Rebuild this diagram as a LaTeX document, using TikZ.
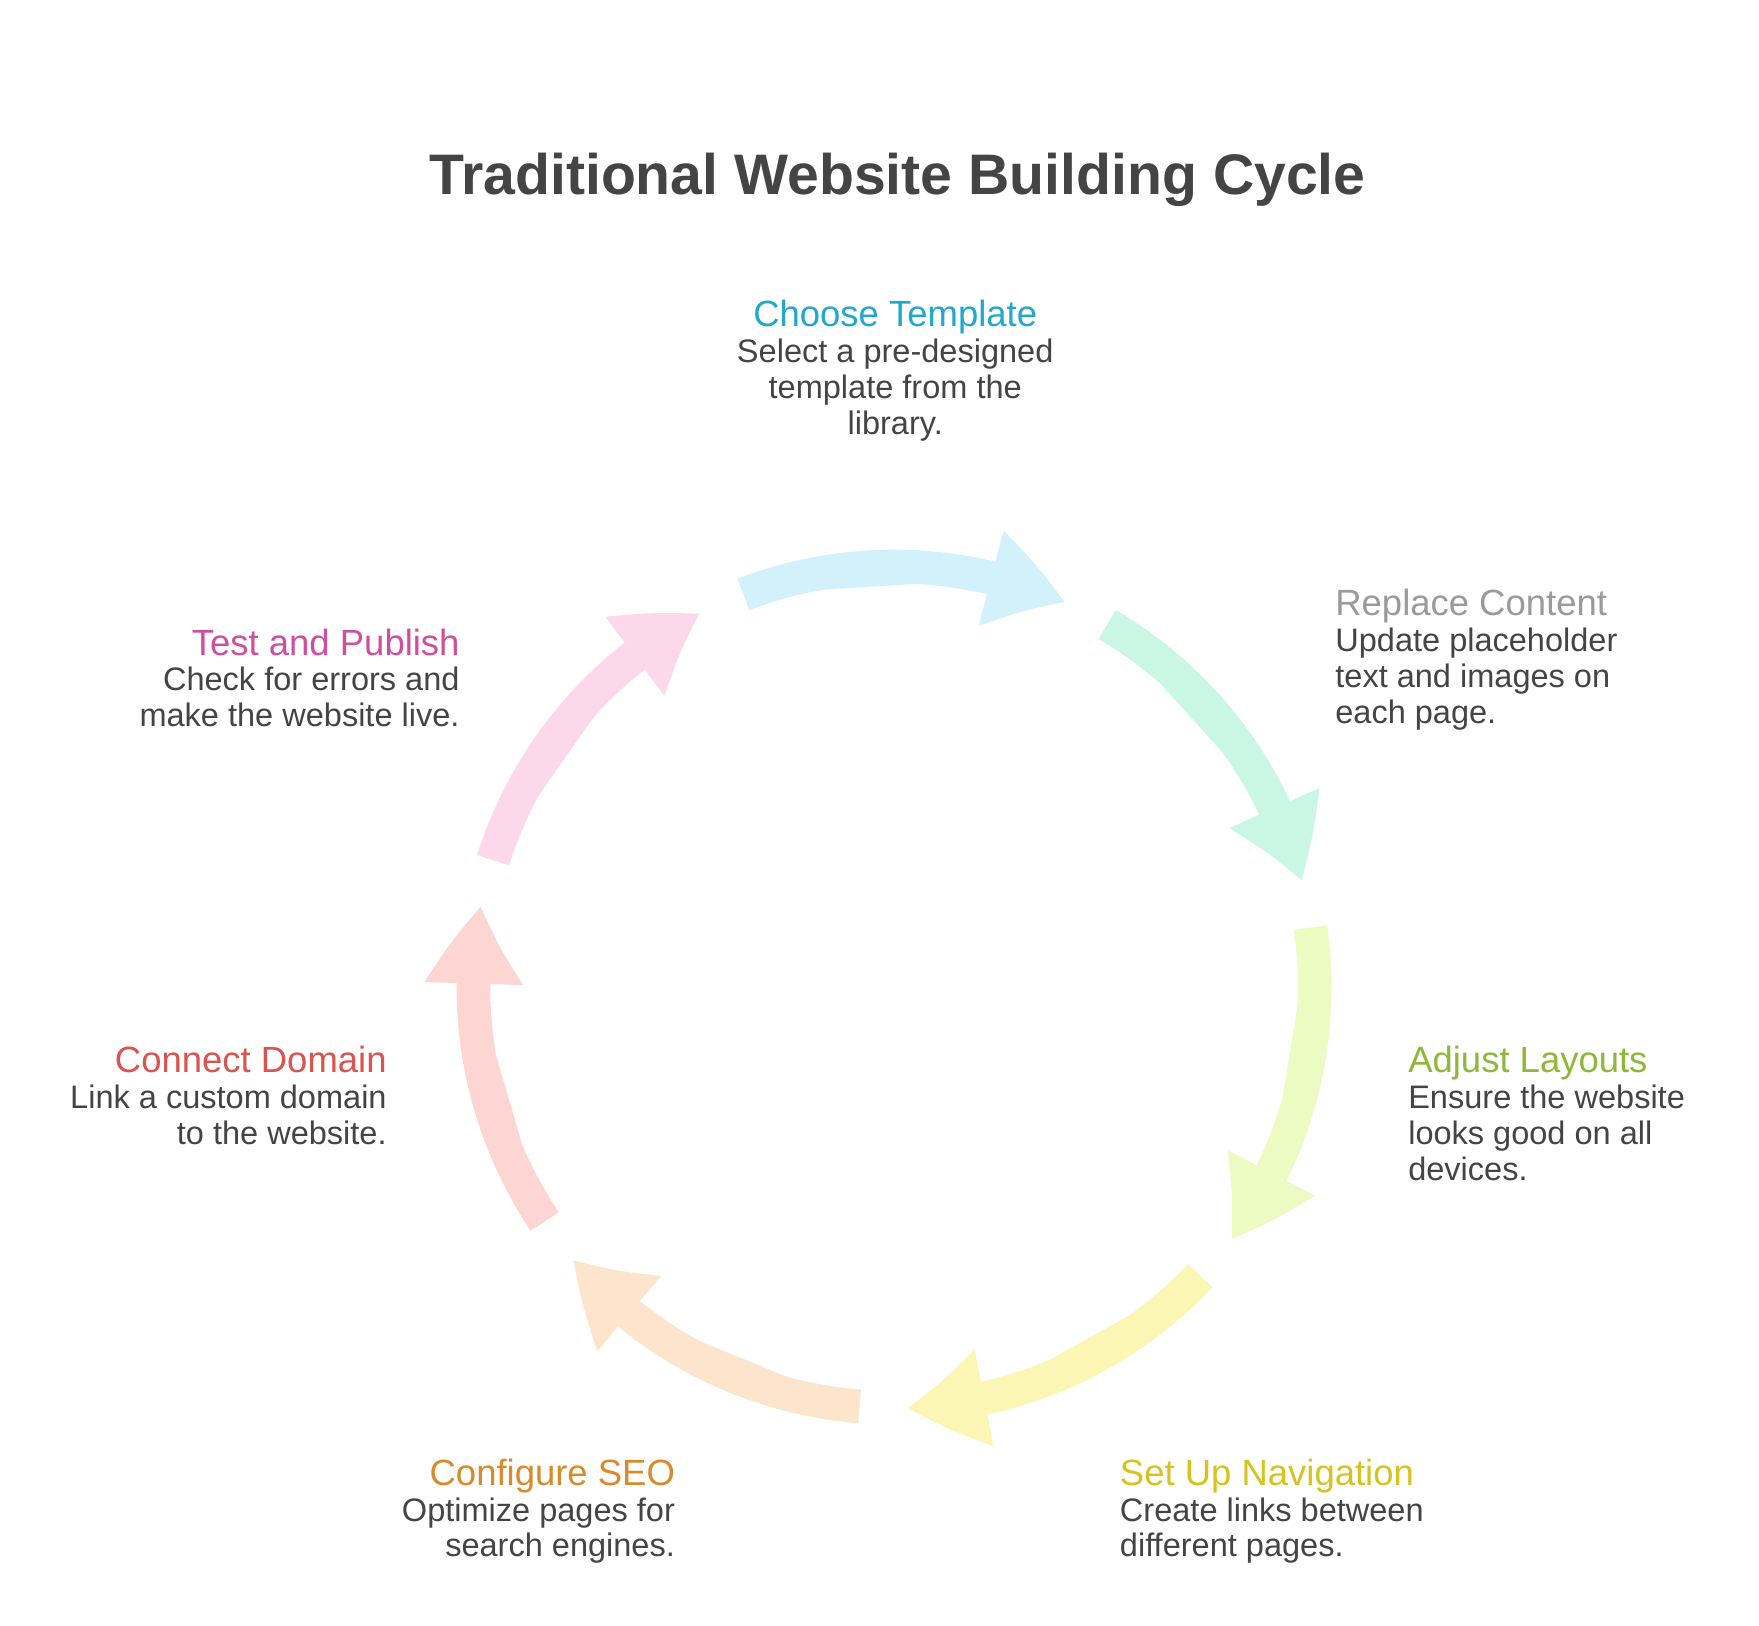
\documentclass[tikz,border=0pt]{standalone}
\usepackage{fontspec}
\setmainfont{Liberation Sans}
\usetikzlibrary{arrows.meta,bending}
\definecolor{txt}{HTML}{444444}
\definecolor{cTemplate}{HTML}{D2F1FB}
\definecolor{cContent}{HTML}{C9F7E3}
\definecolor{cLayout}{HTML}{ECFBC2}
\definecolor{cNav}{HTML}{FCF6B5}
\definecolor{cSEO}{HTML}{FDE4CD}
\definecolor{cDomain}{HTML}{FDD6D3}
\definecolor{cPublish}{HTML}{FCD8EA}
\definecolor{hTemplate}{HTML}{22A7CE}
\definecolor{hContent}{HTML}{9A9A9A}
\definecolor{hLayout}{HTML}{8DB83A}
\definecolor{hNav}{HTML}{D8C21E}
\definecolor{hSEO}{HTML}{D98A2B}
\definecolor{hDomain}{HTML}{D9534F}
\definecolor{hPublish}{HTML}{D04E9F}
\newcommand{\head}[2]{{\fontsize{18.5}{19}\selectfont\color{#1}#2}}
\begin{document}
\begin{tikzpicture}[
    font=\fontsize{16.5}{18.2}\selectfont,
    stage/.style={inner sep=0pt, text=txt},
    cyclearrow/.style={line width=0.6cm, -{Triangle[length=1.4cm, width=1.65cm, bend]}},
]
    \useasboundingbox (0,0) rectangle (31.36,-28.98);

    % Title
    \node[font=\fontsize{29}{33}\selectfont\bfseries, text=txt] (title) at (16,-3.2) {Traditional Website Building Cycle};

    % Cycle arrows
    \coordinate (c) at (15.94,-17.6);
    \foreach \col [count=\i from 0] in {cTemplate,cContent,cLayout,cNav,cSEO,cDomain,cPublish} {
        \pgfmathsetmacro{\a}{111-51.43*\i}
        \draw[cyclearrow, draw=\col, fill=\col] (c) ++(\a:7.5) arc[start angle=\a, end angle=\a-45, radius=7.5];
    }

    % Stage labels
    \node[stage, anchor=north, align=center] (template) at (15.96,-5.35)
        {\head{hTemplate}{Choose Template}\\Select a pre-designed\\template from the\\library.};
    \node[stage, anchor=north west, align=left] (content) at (23.8,-10.5)
        {\head{hContent}{Replace Content}\\Update placeholder\\text and images on\\each page.};
    \node[stage, anchor=north west, align=left] (layout) at (25.1,-18.65)
        {\head{hLayout}{Adjust Layouts}\\Ensure the website\\looks good on all\\devices.};
    \node[stage, anchor=north west, align=left] (nav) at (19.96,-26)
        {\head{hNav}{Set Up Navigation}\\Create links between\\different pages.};
    \node[stage, anchor=north east, align=right] (seo) at (12.04,-26)
        {\head{hSEO}{Configure SEO}\\Optimize pages for\\search engines.};
    \node[stage, anchor=north east, align=right] (domain) at (6.9,-18.65)
        {\head{hDomain}{Connect Domain}\\Link a custom domain\\to the website.};
    \node[stage, anchor=north east, align=right] (publish) at (8.2,-11.2)
        {\head{hPublish}{Test and Publish}\\Check for errors and\\make the website live.};
\end{tikzpicture}
\end{document}
